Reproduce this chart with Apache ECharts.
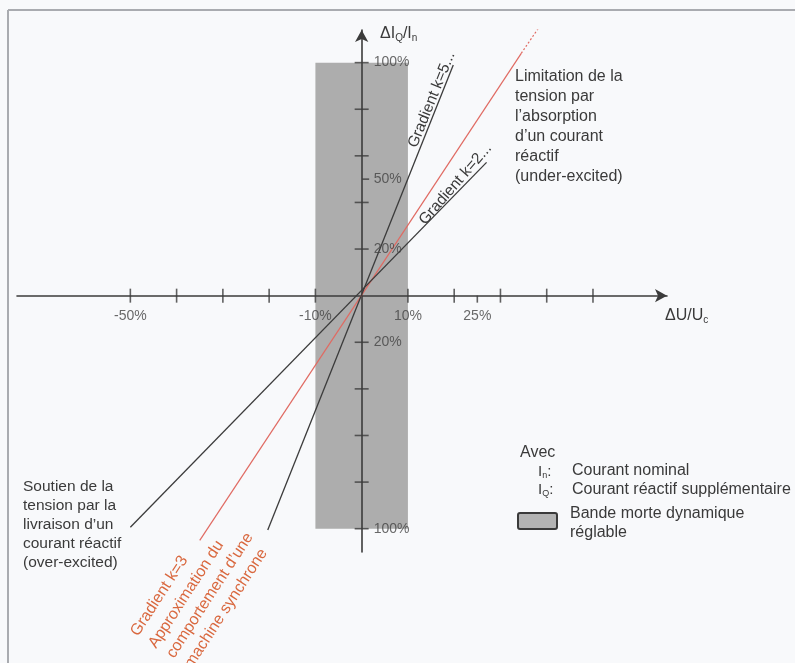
<!DOCTYPE html>
<html><head><meta charset="utf-8">
<script src="https://cdn.jsdelivr.net/npm/echarts@6/dist/echarts.min.js"></script>
<style>html,body{margin:0;padding:0;background:#f8f9fb;}#c{width:795px;height:663px;}</style>
</head><body><div id="c"></div>
<script>
// Schematic units: one axis tick = one unit
const xTicks = [-5, -4, -3, -2, -1, 1, 2, 3, 4, 5];
const yTicks = [-5, -4, -3, -2, -1, 1, 2, 3, 4, 5];
const xMinorTicks = [2.5];
const yMinorTicks = [2.5];
const xLabelValues = [-5, -1, 1, 2.5];
const xLabelTexts = ['-50%', '-10%', '10%', '25%'];
const yLabelValues = [5, 2.5, 1, -1, -5];
const yLabelTexts = ['100%', '50%', '20%', '20%', '100%'];
const deadBandX = [-1, 1];
const deadBandY = [-5, 5];
const gradientK5 = [[-2.03, -5.03], [1.98, 4.95]];
const gradientK2 = [[-5.0, -4.97], [2.7, 2.86]];
const gradientK3 = [[-3.5, -5.25], [3.45, 5.2]];
const gradientK3Dots = [[3.45, 5.2], [4.0, 6.0]];

const FONT = '"Liberation Sans", Arial, sans-serif';
const DARK = '#3b3b3b';
const TXT = '#3a3a3a';
const RED = '#e06a62';
const REDTXT = '#d9683f';
const deg = Math.PI / 180;

function txt(x, y, text, extra) {
  return Object.assign({
    type: 'text', x: x, y: y, z: 10,
    style: Object.assign({
      text: text, fill: TXT, font: '16px ' + FONT,
      align: 'left', textAlign: 'left', verticalAlign: 'middle', textVerticalAlign: 'middle'
    }, extra && extra.style || {})
  }, extra && extra.el || {});
}
function rot(x, y, text, angle, color, size) {
  return {
    type: 'text', x: x, y: y, rotation: angle * deg, z: 10,
    style: { text: text, fill: color, font: size + 'px ' + FONT,
      align: 'left', textAlign: 'left', verticalAlign: 'bottom', textVerticalAlign: 'bottom' }
  };
}
const subRich = function (fs, pad) { return { s: { fontSize: fs, fontFamily: FONT, fill: TXT, padding: [pad, 0, 0, 0] } }; };

const chart = echarts.init(document.getElementById('c'), null, { renderer: 'canvas' });
const option = {
  animation: false,
  backgroundColor: '#f8f9fb',
  grid: { left: 17, right: 128, top: 30, bottom: 111, containLabel: false },
  xAxis: {
    type: 'value', min: -7.45, max: 6.6, z: 3,
    axisLine: { onZero: true, lineStyle: { color: DARK, width: 1.6 }, symbol: ['none', 'arrow'], symbolSize: [10, 12] },
    axisTick: { show: false }, splitLine: { show: false }, axisLabel: { show: false }
  },
  yAxis: {
    type: 'value', min: -5.5, max: 5.7, z: 3,
    axisLine: { onZero: true, lineStyle: { color: DARK, width: 1.6 }, symbol: ['none', 'arrow'], symbolSize: [10, 12] },
    axisTick: { show: false }, splitLine: { show: false }, axisLabel: { show: false }
  },
  series: [
    {
      type: 'custom', z: 1, silent: true,
      encode: { x: [0, 2], y: [1, 3] },
      data: [[deadBandX[0], deadBandY[1], deadBandX[1], deadBandY[0]]],
      renderItem: function (params, api) {
        const p1 = api.coord([api.value(0), api.value(1)]);
        const p2 = api.coord([api.value(2), api.value(3)]);
        return { type: 'rect', shape: { x: p1[0], y: p1[1], width: p2[0] - p1[0], height: p2[1] - p1[1] }, style: { fill: '#adadad' } };
      }
    },
    { type: 'line', z: 4, silent: true, showSymbol: false, data: gradientK3, lineStyle: { color: RED, width: 1.2 } },
    { type: 'line', z: 4, silent: true, showSymbol: false, data: gradientK3Dots, lineStyle: { color: RED, width: 1.2, type: [2, 2] } },
    { type: 'line', z: 4, silent: true, showSymbol: false, data: gradientK5, lineStyle: { color: DARK, width: 1.3 } },
    { type: 'line', z: 4, silent: true, showSymbol: false, data: gradientK2, lineStyle: { color: DARK, width: 1.3 } },
    { type: 'scatter', z: 5, silent: true, symbol: 'rect', symbolSize: [1.6, 14], itemStyle: { color: DARK }, data: xTicks.map(function (v) { return [v, 0]; }) },
    { type: 'scatter', z: 5, silent: true, symbol: 'rect', symbolSize: [14, 1.6], itemStyle: { color: DARK }, data: yTicks.map(function (v) { return [0, v]; }) },
    { type: 'scatter', z: 5, silent: true, symbol: 'rect', symbolSize: [1.6, 7], symbolOffset: [0, 3.5], itemStyle: { color: DARK }, data: xMinorTicks.map(function (v) { return [v, 0]; }) },
    { type: 'scatter', z: 5, silent: true, symbol: 'rect', symbolSize: [7, 1.6], symbolOffset: [4, 0], itemStyle: { color: DARK }, data: yMinorTicks.map(function (v) { return [0, v]; }) },
    {
      type: 'scatter', z: 6, silent: true, symbolSize: 0,
      data: xLabelValues.map(function (v) { return [v, 0]; }),
      label: { show: true, position: 'bottom', distance: 13, color: '#444', fontSize: 14, fontFamily: FONT,
        formatter: function (p) { return xLabelTexts[p.dataIndex]; } }
    },
    {
      type: 'scatter', z: 6, silent: true, symbolSize: 0,
      data: yLabelValues.map(function (v) { return [0, v]; }),
      label: { show: true, position: 'right', distance: 12, color: '#444', fontSize: 14, fontFamily: FONT,
        formatter: function (p) { return yLabelTexts[p.dataIndex]; } }
    }
  ],
  graphic: [
    { type: 'line', z: 10, shape: { x1: 8, y1: 10, x2: 795, y2: 10 }, style: { stroke: '#a9abb0', lineWidth: 2 } },
    { type: 'line', z: 10, shape: { x1: 8, y1: 10, x2: 8, y2: 663 }, style: { stroke: '#a9abb0', lineWidth: 2 } },
    txt(380, 34, 'ΔI{s|Q}/I{s|n}', { style: { font: '16px ' + FONT, rich: subRich(10, 9) } }),
    txt(665, 316, 'ΔU/U{s|c}', { style: { font: '16px ' + FONT, rich: subRich(10, 9) } }),
    txt(515, 127, 'Limitation de la\ntension par\nl’absorption\nd’un courant\nréactif\n(under-excited)', { style: { lineHeight: 20 } }),
    txt(23, 525, 'Soutien de la\ntension par la\nlivraison d’un\ncourant réactif\n(over-excited)', { style: { lineHeight: 19, font: '15.5px ' + FONT } }),
    rot(420, 150, 'Gradient k=5...', 68, TXT, 15.5),
    rot(428, 228, 'Gradient k=2...', 49, TXT, 15.5),
    rot(141, 639, 'Gradient k=3', 57, REDTXT, 16),
    rot(159, 651, 'Approximation du', 57, REDTXT, 16),
    rot(177, 661, 'comportement d’une', 57, REDTXT, 16),
    rot(195, 671, 'machine synchrone', 57, REDTXT, 16),
    txt(520, 453, 'Avec'),
    txt(538, 472, 'I{s|n}:', { style: { font: '15px ' + FONT, rich: subRich(9, 7) } }),
    txt(572, 471, 'Courant nominal'),
    txt(538, 490, 'I{s|Q}:', { style: { font: '15px ' + FONT, rich: subRich(9, 7) } }),
    txt(572, 490, 'Courant réactif supplémentaire'),
    { type: 'rect', z: 10, shape: { x: 518, y: 513, width: 39, height: 16, r: 2 }, style: { fill: '#b3b3b3', stroke: '#3a3a3a', lineWidth: 2 } },
    txt(570, 514, 'Bande morte dynamique'),
    txt(570, 533, 'réglable')
  ]
};
chart.setOption(option);
</script></body></html>
